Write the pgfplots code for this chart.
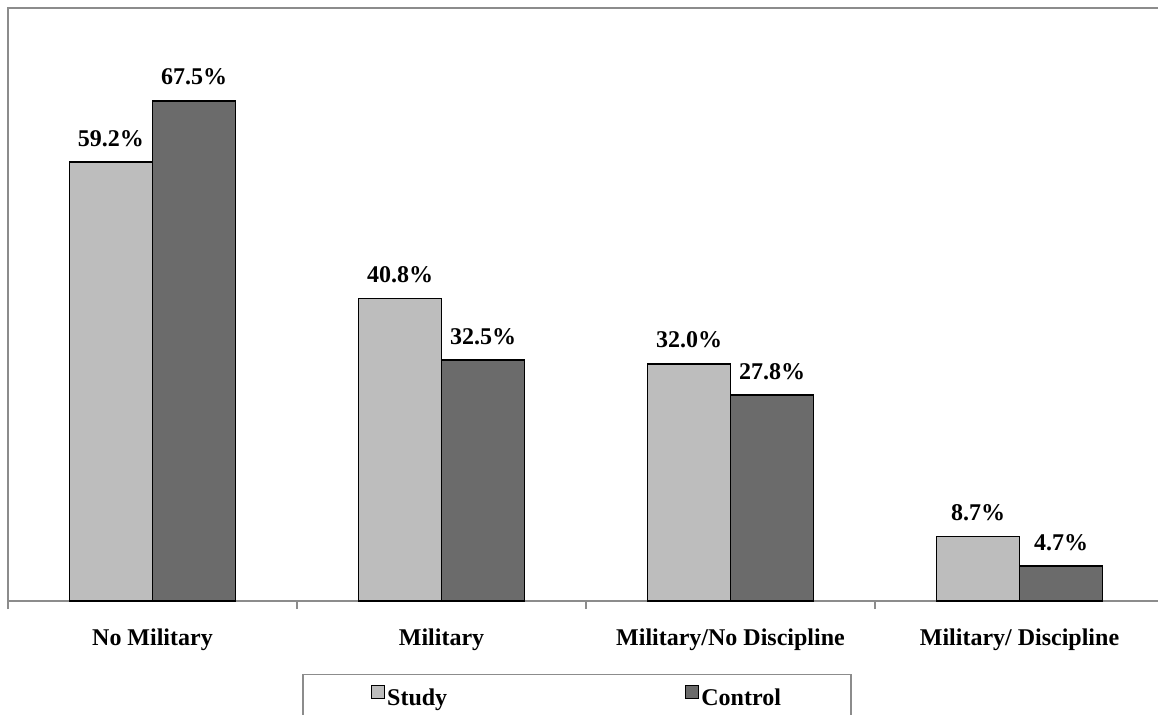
\documentclass[border=0pt]{standalone}
\usepackage{fontspec}
\setmainfont{Liberation Serif}
\usepackage{pgfplots}
\pgfplotsset{compat=1.18}
\definecolor{studyc}{HTML}{BDBDBD}
\definecolor{controlc}{HTML}{6B6B6B}
\definecolor{framec}{HTML}{8C8C8C}
\begin{document}
\begin{tikzpicture}
\begin{axis}[
  scale only axis,
  width=578pt, height=296.5pt,
  ybar=0pt, bar width=41.5pt,
  xmin=-0.5, xmax=3.5, ymin=0, ymax=80,
  xtick={0,1,2,3},
  xticklabels={No Military, Military, Military/No Discipline, Military/ Discipline},
  minor xtick={-0.5,0.5,1.5,2.5,3.5},
  major tick length=0pt, minor tick length=4pt,
  tick align=outside, xtick pos=bottom,
  minor tick style={framec, line width=0.6pt},
  ytick=\empty,
  axis line style={framec, line width=0.8pt},
  xticklabel style={font=\fontsize{12}{14}\selectfont\bfseries, yshift=-10.5pt},
  clip=false,
  nodes near coords={\pgfmathprintnumber[fixed,fixed zerofill,precision=1,assume math mode=true]{\pgfplotspointmeta}\%},
  every node near coord/.append style={font=\fontsize{12}{14}\selectfont\bfseries, yshift=4pt, black},
  legend columns=2,
  legend image code/.code={\draw[#1, line width=0.6pt] (0pt,0pt) rectangle (6.5pt,6.5pt);},
  legend style={at={(0.4922,-0.1231)}, anchor=north, draw=framec, line width=0.6pt,
    font=\fontsize{12}{14}\selectfont\bfseries, inner xsep=34pt, inner ysep=5pt,
    /tikz/every even column/.append style={column sep=118pt},
    nodes={inner xsep=1pt}},
]
\addplot[draw=black, fill=studyc, line width=0.9pt] coordinates {(0,59.2) (1,40.8) (2,32.0) (3,8.7)};
\addplot[draw=black, fill=controlc, line width=0.9pt] coordinates {(0,67.5) (1,32.5) (2,27.8) (3,4.7)};
\legend{Study, Control}
\end{axis}
\pgfresetboundingbox
\path[use as bounding box] (-4pt,-56.5pt) rectangle (575pt,300.5pt);
\end{tikzpicture}
\end{document}
